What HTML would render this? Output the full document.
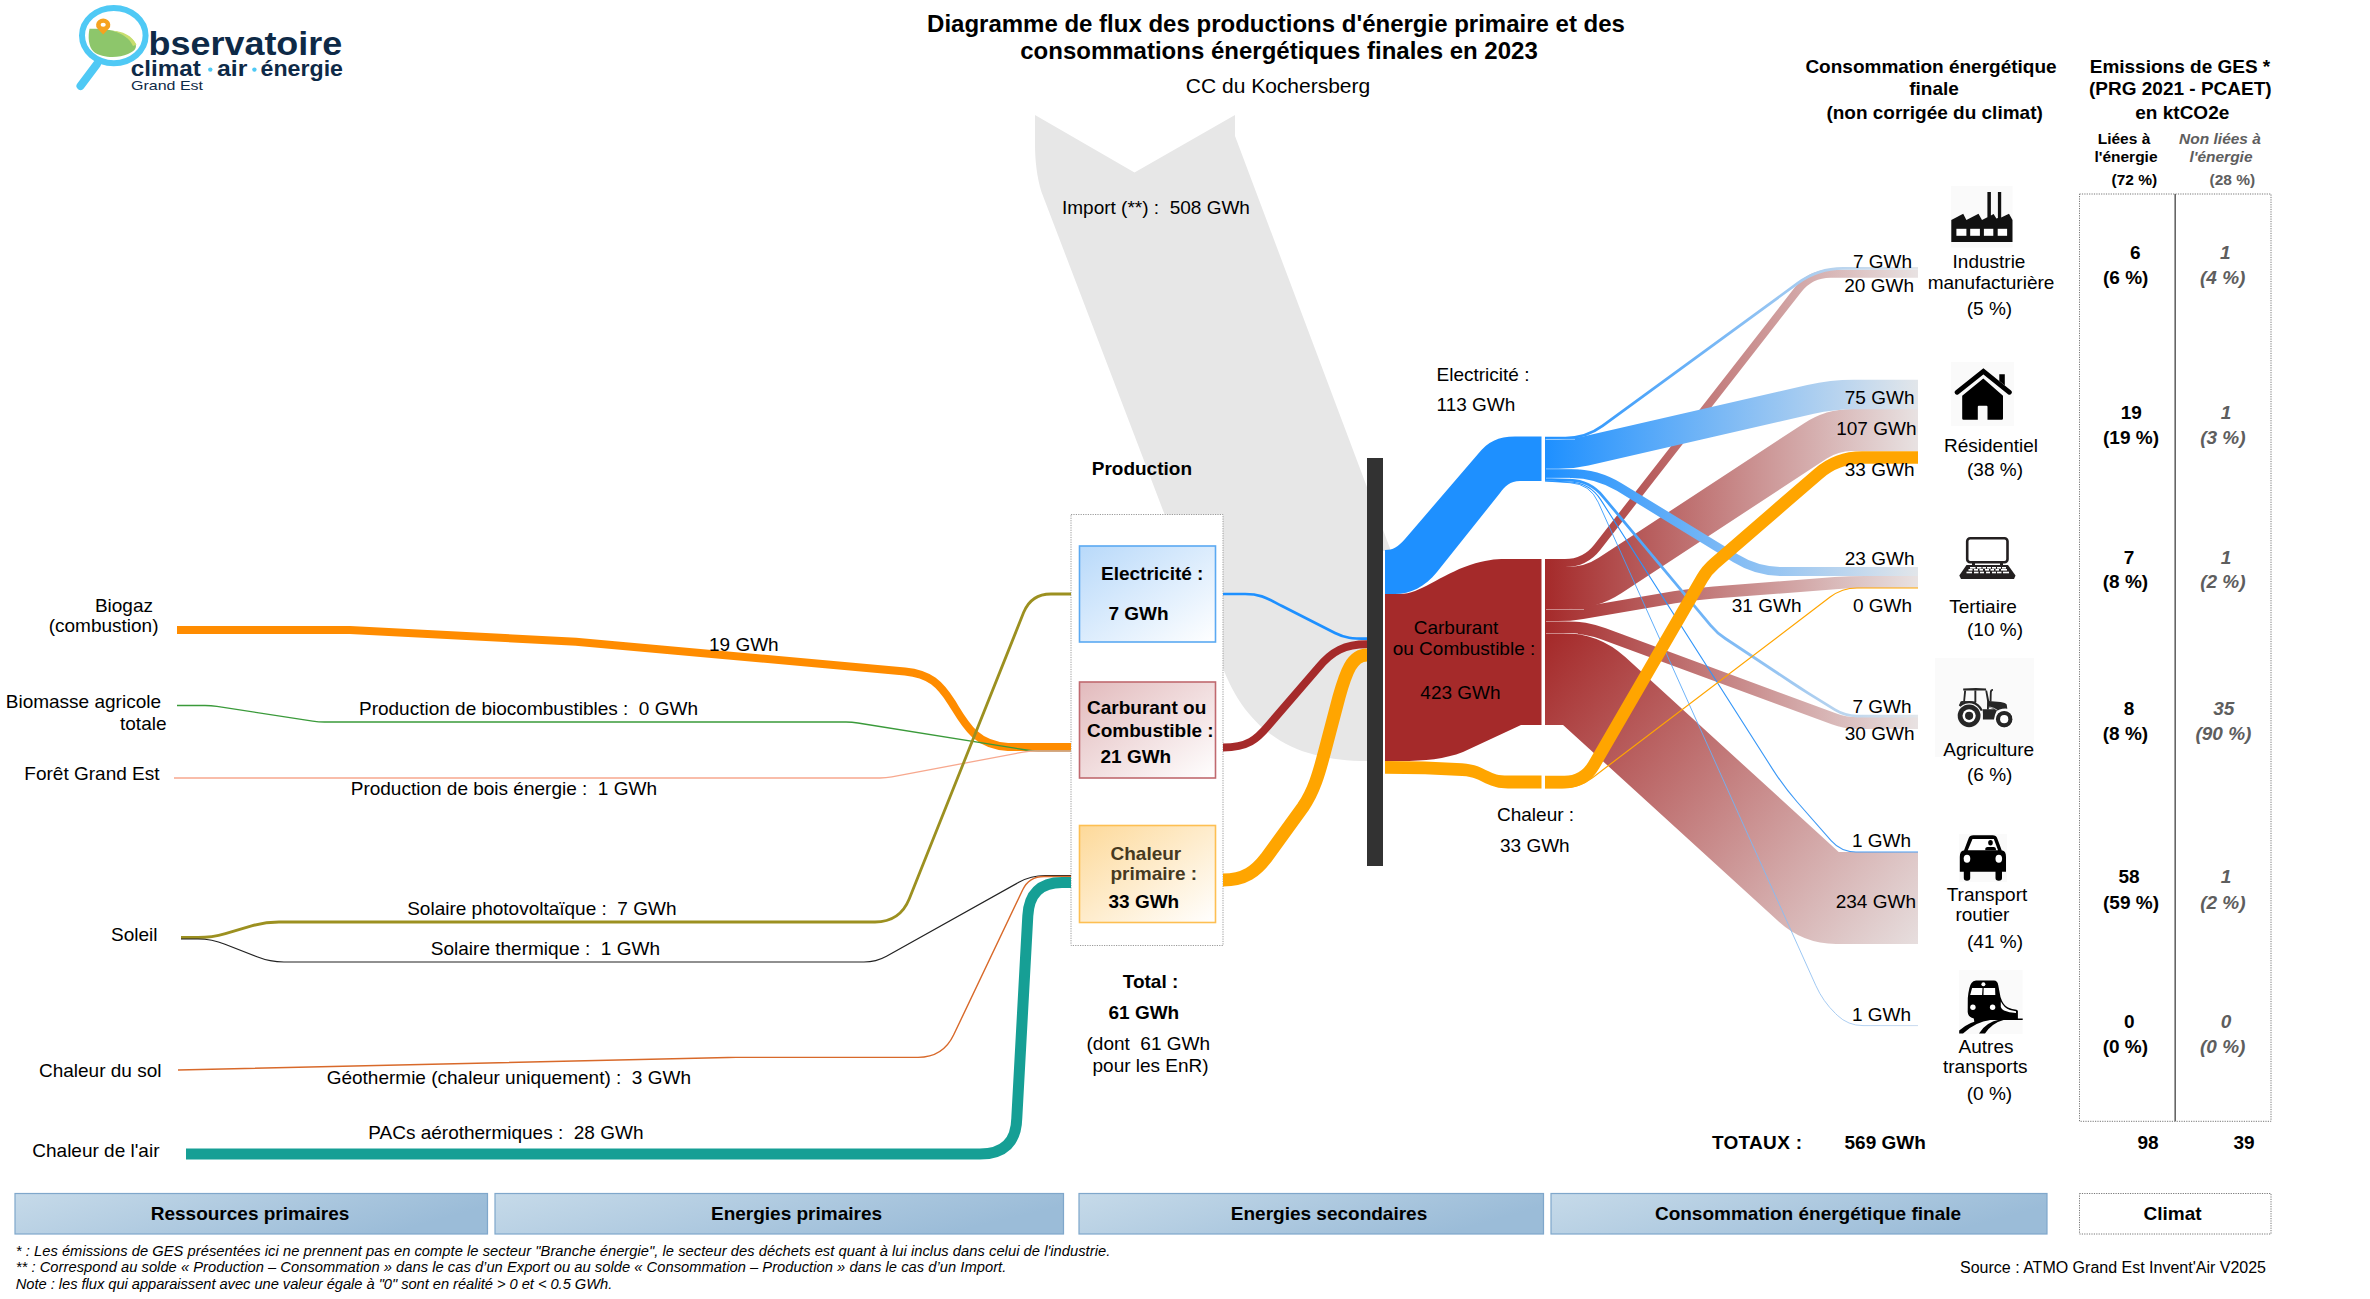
<!DOCTYPE html>
<html lang="fr"><head><meta charset="utf-8"><title>Diagramme de flux énergie 2023 - CC du Kochersberg</title>
<style>
html,body{margin:0;padding:0;background:#fff;}
body{width:2370px;height:1299px;overflow:hidden;}
svg{display:block;font-family:"Liberation Sans",Arial,sans-serif;}
text{white-space:pre;}
.r{font-size:19px;fill:#000;}
.b{font-size:19px;font-weight:bold;fill:#000;}
.g{font-size:19px;font-weight:bold;font-style:italic;fill:#5e5e5e;}
.s{font-size:15.5px;font-weight:bold;fill:#000;}
.sg{font-size:15.5px;font-weight:bold;font-style:italic;fill:#5e5e5e;}
.fn{font-size:14.7px;font-style:italic;fill:#000;}
</style></head>
<body>
<svg width="2370" height="1299" viewBox="0 0 2370 1299">
<defs>
<linearGradient id="gElec" x1="0" y1="0" x2="1" y2="1"><stop offset="0" stop-color="#b8d9fa"/><stop offset="1" stop-color="#ffffff"/></linearGradient>
<linearGradient id="gCarb" x1="0" y1="0" x2="1" y2="1"><stop offset="0" stop-color="#e2babc"/><stop offset="1" stop-color="#ffffff"/></linearGradient>
<linearGradient id="gChal" x1="0" y1="0" x2="1" y2="1"><stop offset="0" stop-color="#fdd999"/><stop offset="1" stop-color="#ffffff"/></linearGradient>
<linearGradient id="gBar" x1="0" y1="0" x2="1" y2="0.3"><stop offset="0" stop-color="#c6dae9"/><stop offset="1" stop-color="#9bbcd8"/></linearGradient>
<linearGradient id="fB" gradientUnits="userSpaceOnUse" x1="1545" y1="0" x2="1918" y2="0"><stop offset="0" stop-color="#1e90ff"/><stop offset="1" stop-color="#e2e6ea"/></linearGradient>
<linearGradient id="fR" gradientUnits="userSpaceOnUse" x1="1545" y1="0" x2="1918" y2="0"><stop offset="0" stop-color="#a52a2a"/><stop offset="1" stop-color="#e8e2e2"/></linearGradient>
<linearGradient id="fB3" gradientUnits="userSpaceOnUse" x1="1545" y1="0" x2="1918" y2="0"><stop offset="0" stop-color="#1e90ff"/><stop offset="1" stop-color="#4a9cf0"/></linearGradient>
<linearGradient id="fB4" gradientUnits="userSpaceOnUse" x1="1545" y1="0" x2="1918" y2="0"><stop offset="0" stop-color="#1e90ff"/><stop offset="1" stop-color="#c4d6ec"/></linearGradient>
<linearGradient id="fR2" gradientUnits="userSpaceOnUse" x1="1545" y1="640" x2="1918" y2="960"><stop offset="0" stop-color="#a52a2a"/><stop offset="1" stop-color="#e8e2e2"/></linearGradient>
</defs>
<g id="logo">
<ellipse cx="113.8" cy="35.6" rx="31.8" ry="27.6" fill="none" stroke="#4fc9f5" stroke-width="6"/>
<line x1="97" y1="64" x2="80.5" y2="86" stroke="#4fc9f5" stroke-width="8" stroke-linecap="round"/>
<path d="M89.5,28.8 C100,28 124,30 133,40 C138,46 137,50 128,54 C118,58.5 102,58 94,52 C88,47 88,36 89.5,28.8 Z" fill="#8dc66b"/>
<path d="M111,30.4 C123,31 132,35.5 136.5,44.5 C135.5,45.2 134.3,45.6 133,46 C130,38.5 122,33 111,30.4 Z" fill="#c8de6e"/>
<path d="M103.2,34.6 L97.4,28.6 A7.1,6.4 0 1 1 109,28.6 Z" fill="#f6a21e"/>
<ellipse cx="103.2" cy="24.8" rx="2.6" ry="2" fill="#fff"/>
<text x="148.6" y="54.6" font-size="33.5" font-weight="bold" fill="#0e2a47" textLength="193.6" lengthAdjust="spacingAndGlyphs">bservatoire</text>
<text x="130.8" y="75.8" font-size="22.5" font-weight="bold" fill="#0e2a47" textLength="70" lengthAdjust="spacingAndGlyphs">climat</text>
<text x="217" y="75.8" font-size="22.5" font-weight="bold" fill="#0e2a47" textLength="30.3" lengthAdjust="spacingAndGlyphs">air</text>
<text x="260.6" y="75.8" font-size="22.5" font-weight="bold" fill="#0e2a47" textLength="82.4" lengthAdjust="spacingAndGlyphs">énergie</text>
<circle cx="210.3" cy="69.6" r="2.2" fill="#4fc9f5"/>
<circle cx="254.4" cy="69.6" r="2.2" fill="#4fc9f5"/>
<text x="131" y="90.2" font-size="12.8" fill="#0e2a47" textLength="72" lengthAdjust="spacingAndGlyphs">Grand Est</text>
</g>
<text class="b" x="1276" y="31.6" font-size="24" text-anchor="middle" style="font-size:24px">Diagramme de flux des productions d'énergie primaire et des</text>
<text class="b" x="1279" y="58.5" text-anchor="middle" style="font-size:24px">consommations énergétiques finales en 2023</text>
<text class="r" x="1278" y="92.7" text-anchor="middle" style="font-size:21px">CC du Kochersberg</text>
<path d="M1035,115 L1134.5,172.5 L1235,115 L1235,136 L1391,551 L1367,551 L1367,761 C1300,761 1245,737 1219,657 L1041.5,192 C1037,178 1035,160 1035,145 Z" fill="#e7e7e7"/>
<rect x="1071" y="514.5" width="152" height="431" fill="#fff" stroke="#9a9a9a" stroke-width="1" stroke-dasharray="1.2 1.2"/>
<rect x="1079.5" y="546" width="136" height="96" fill="url(#gElec)" stroke="#5aa9f2" stroke-width="1.6"/>
<rect x="1079.5" y="682" width="136" height="96" fill="url(#gCarb)" stroke="#c0696f" stroke-width="1.6"/>
<rect x="1079.5" y="825.5" width="136" height="97" fill="url(#gChal)" stroke="#fdbf52" stroke-width="1.6"/>
<text class="b" x="1192" y="475.4" text-anchor="end">Production</text>
<text class="b" x="1101" y="580.2">Electricité :</text>
<text class="b" x="1108.5" y="619.6">7 GWh</text>
<text class="b" x="1087" y="714.4">Carburant ou</text>
<text class="b" x="1087" y="736.6">Combustible :</text>
<text class="b" x="1100.5" y="763.4">21 GWh</text>
<text class="b" x="1110.5" y="859.5" style="fill:#46391f">Chaleur</text>
<text class="b" x="1110.5" y="879.8" style="fill:#46391f">primaire :</text>
<text class="b" x="1108.5" y="907.7">33 GWh</text>
<text class="b" x="1150.5" y="987.6" text-anchor="middle">Total :</text>
<text class="b" x="1108.5" y="1018.7">61 GWh</text>
<text class="r" x="1086.5" y="1050.4">(dont  61 GWh</text>
<text class="r" x="1092.5" y="1071.6">pour les EnR)</text>
<path d="M177,630 L350,630 L576,641.8 L905,671.5 C930,674 940,684 952,703 C965,724 975,745 1008,747 L1071,747" fill="none" stroke="#ff8c00" stroke-width="8"/>
<path d="M177.0,705.5 L205.0,705.5 Q211.0,705.5 216.9,706.4 L312.7,721.1 Q318.6,722.0 324.6,722.0 L846.0,722.0 Q852.0,722.0 857.9,723.0 L1026.1,750.0 Q1032.0,751.0 1038.0,751.0 L1071.0,751.0" fill="none" stroke="#3a9a3a" stroke-width="1.3"/>
<path d="M174.0,778.0 L880.0,778.0 Q886.0,778.0 891.9,776.9 L1023.1,752.1 Q1029.0,751.0 1035.0,751.0 L1071.0,751.0" fill="none" stroke="#f7a88e" stroke-width="1.3"/>
<path d="M181.0,937.5 L198.0,937.5 Q212.0,937.5 225.4,933.6 L251.6,925.9 Q265.0,922.0 279.0,922.0 L875.0,922.0 Q900.0,922.0 909.3,898.8 L1023.6,612.6 Q1031.0,594.0 1051.0,594.0 L1071.0,594.0" fill="none" stroke="#9c9020" stroke-width="2.8"/>
<path d="M181.0,939.0 L198.0,939.0 Q212.0,939.0 225.0,944.2 L257.0,956.8 Q270.0,962.0 284.0,962.0 L864.0,962.0 Q876.0,962.0 886.5,956.2 L1018.8,882.3 Q1031.0,875.5 1045.0,875.5 L1071.0,875.5" fill="none" stroke="#222" stroke-width="1.2"/>
<path d="M178.0,1070.0 L728.0,1057.5 Q732.0,1057.4 736.0,1057.4 L918.0,1057.4 Q943.0,1057.4 953.7,1034.8 L1022.6,890.0 Q1029.0,876.5 1044.0,876.5 L1071.0,876.5" fill="none" stroke="#d8692a" stroke-width="1.4"/>
<path d="M186,1154 L980,1154 Q1016,1154 1016.8,1118 L1027.8,916 Q1029.5,882.5 1062,882.5 L1071,882.5" fill="none" stroke="#169f95" stroke-width="11"/>
<path d="M1223,594 L1245,594 C1262,594 1268,599 1282,606 L1335,633 C1345,638 1352,638.7 1367,638.7" fill="none" stroke="#1e90ff" stroke-width="2.7"/>
<path d="M1223,747.5 C1248,747.5 1257,739 1268,726 L1318,668 C1332,651 1345,644.3 1367,644.3" fill="none" stroke="#a52a2a" stroke-width="8"/>
<path d="M1223,880 C1245,880 1256,871 1266,858 L1303,807 C1314,791 1319,773 1324,754 L1339,697 C1346,672 1352,655 1367,655" fill="none" stroke="#ffa500" stroke-width="13"/>
<path d="M1385,550 C1393,550 1398,547 1405,539 L1478,454 C1488,442 1498,436.6 1515,436.6 L1541.5,436.6 L1541.5,481 L1520,481 C1510,481 1505,486 1500,493 L1437,572 C1425,587 1410,594 1395,594 L1385,594 Z" fill="#1e90ff"/>
<path d="M1385,594 L1400,594 C1420,594 1440,575 1470,565 C1485,560 1495,559 1505,559 L1541.5,559 L1541.5,725 L1521,725 L1463,752 C1445,759 1425,761 1400,761 L1385,761 Z" fill="#a52a2a"/>
<path d="M1385,761 L1425,761.6 L1462,763.2 C1475,764 1482,768 1488,771 C1494,774 1498,775.6 1508,775.6 L1541.5,775.6 L1541.5,788.4 L1508,788.4 C1498,788.4 1493,786.5 1486,783.5 C1479,780 1474,776.6 1462,776 L1425,774.2 L1385,773.8 Z" fill="#ffa500"/>
<text class="r" x="1436.5" y="381">Electricité :</text>
<text class="r" x="1436.5" y="411">113 GWh</text>
<text class="r" x="1456" y="634" text-anchor="middle">Carburant</text>
<text class="r" x="1464" y="655" text-anchor="middle">ou Combustible :</text>
<text class="r" x="1460.5" y="699" text-anchor="middle">423 GWh</text>
<text class="r" x="1497" y="820.8">Chaleur :</text>
<text class="r" x="1500" y="851.5">33 GWh</text>
<rect x="1367" y="458" width="16" height="408" fill="#323232"/>
<text class="r" x="153" y="611.6" text-anchor="end">Biogaz</text>
<text class="r" x="158.5" y="631.7" text-anchor="end">(combustion)</text>
<text class="r" x="161" y="707.6" text-anchor="end">Biomasse agricole</text>
<text class="r" x="166.5" y="729.8" text-anchor="end">totale</text>
<text class="r" x="159.5" y="780.4" text-anchor="end">Forêt Grand Est</text>
<text class="r" x="157.5" y="941" text-anchor="end">Soleil</text>
<text class="r" x="161.5" y="1076.5" text-anchor="end">Chaleur du sol</text>
<text class="r" x="159.5" y="1156.5" text-anchor="end">Chaleur de l'air</text>
<text class="r" x="709" y="650.6">19 GWh</text>
<text class="r" x="698" y="715" text-anchor="end">Production de biocombustibles :  0 GWh</text>
<text class="r" x="657" y="795" text-anchor="end">Production de bois énergie :  1 GWh</text>
<text class="r" x="676.5" y="915" text-anchor="end">Solaire photovoltaïque :  7 GWh</text>
<text class="r" x="660" y="955" text-anchor="end">Solaire thermique :  1 GWh</text>
<text class="r" x="691" y="1083.5" text-anchor="end">Géothermie (chaleur uniquement) :  3 GWh</text>
<text class="r" x="643.5" y="1139" text-anchor="end">PACs aérothermiques :  28 GWh</text>
<path d="M1545.0,679.0 L1563.0,679.0 Q1581.0,679.0 1594.3,691.1 L1809.9,887.9 Q1821.0,898.0 1836.0,898.0 L1918.0,898.0" fill="none" stroke="url(#fR2)" stroke-width="92"/>
<path d="M1545.0,627.0 L1565.0,627.0 Q1585.0,627.0 1603.8,633.9 L1833.7,718.8 Q1845.0,723.0 1857.0,723.0 L1918.0,723.0" fill="none" stroke="url(#fR)" stroke-width="11.8"/>
<path d="M1545.0,615.0 L1557.5,615.0 Q1570.0,615.0 1582.3,612.9 L1674.3,597.3 Q1694.0,594.0 1713.9,592.5 L1835.0,583.2 Q1850.0,582.0 1865.0,582.0 L1918.0,582.0" fill="none" stroke="url(#fR)" stroke-width="12.2"/>
<path d="M1545.0,588.0 L1568.0,588.0 Q1591.0,588.0 1610.2,575.4 L1815.3,441.0 Q1832.0,430.0 1852.0,430.0 L1918.0,430.0" fill="none" stroke="url(#fR)" stroke-width="42"/>
<path d="M1545.0,563.0 L1565.0,563.0 Q1585.0,563.0 1597.3,547.2 L1798.2,289.5 Q1810.5,273.7 1830.5,273.7 L1918.0,273.7" fill="none" stroke="url(#fR)" stroke-width="7.9"/>
<path d="M1545.0,454.2 L1558.5,454.2 Q1572.0,454.2 1585.2,451.2 L1810.6,399.4 Q1832.0,394.5 1854.0,394.5 L1918.0,394.5" fill="none" stroke="url(#fB)" stroke-width="29.5"/>
<path d="M1545.0,473.4 L1571.0,473.4 Q1597.0,473.4 1619.2,487.0 L1735.7,558.4 Q1757.0,571.5 1782.0,571.5 L1918.0,571.5" fill="none" stroke="url(#fB)" stroke-width="9"/>
<path d="M1545.0,438.0 L1565.5,438.0 Q1586.0,438.0 1602.5,425.9 L1797.8,283.2 Q1818.0,268.4 1843.0,268.4 L1918.0,268.4" fill="none" stroke="url(#fB)" stroke-width="2.75"/>
<path d="M1545.0,479.2 L1570.0,480.2 Q1590.0,481.0 1602.8,496.3 L1710.6,625.3 Q1717.0,633.0 1725.3,638.5 L1791.7,682.5 Q1800.0,688.0 1808.5,693.3 L1834.8,709.7 Q1845.0,716.0 1857.0,716.0 L1918.0,716.0" fill="none" stroke="url(#fB)" stroke-width="2.75"/>
<path d="M1545.0,480.8 L1570.0,482.0 Q1590.0,483.0 1600.8,499.9 L1773.2,770.1 Q1784.0,787.0 1797.2,802.0 L1831.1,840.7 Q1841.0,852.0 1856.0,852.0 L1918.0,852.0" fill="none" stroke="url(#fB3)" stroke-width="1.1"/>
<path d="M1545.0,481.0 L1570.0,482.7 Q1590.0,484.0 1598.2,502.2 L1815.9,985.7 Q1823.0,1001.5 1835.5,1013.5 L1837.2,1015.2 Q1848.0,1025.6 1863.0,1025.6 L1918.0,1025.6" fill="none" stroke="url(#fB4)" stroke-width="0.9"/>
<line x1="1546" y1="609.5" x2="1584" y2="609.5" stroke="#fff" stroke-opacity="0.55" stroke-width="0.8"/>
<line x1="1546" y1="621.5" x2="1583" y2="621.5" stroke="#fff" stroke-opacity="0.55" stroke-width="0.8"/>
<line x1="1546" y1="633.5" x2="1578" y2="633.5" stroke="#fff" stroke-opacity="0.55" stroke-width="0.8"/>
<line x1="1546" y1="439.4" x2="1575" y2="439.4" stroke="#fff" stroke-opacity="0.55" stroke-width="0.8"/>
<line x1="1546" y1="468.9" x2="1580" y2="468.9" stroke="#fff" stroke-opacity="0.55" stroke-width="0.8"/>
<line x1="1546" y1="478.2" x2="1570" y2="478.2" stroke="#fff" stroke-opacity="0.55" stroke-width="0.8"/>
<path d="M1545.0,788.0 L1562.0,788.0 Q1579.0,788.0 1592.5,777.7 L1830.1,597.1 Q1842.0,588.0 1857.0,588.0 L1918.0,588.0" fill="none" stroke="#ffa500" stroke-width="1.2"/>
<path d="M1545.0,782.0 L1564.5,782.0 Q1584.0,782.0 1593.8,765.1 L1702.0,578.6 Q1707.0,570.0 1714.6,563.5 L1818.1,473.9 Q1837.0,457.5 1862.0,457.5 L1918.0,457.5" fill="none" stroke="#ffa500" stroke-width="12.5"/>
<rect x="1951" y="186" width="61.5" height="61.5" fill="#fafafa"/>
<rect x="1951" y="362" width="63.0" height="64.0" fill="#fafafa"/>
<rect x="1935" y="658" width="99.0" height="99.0" fill="#fafafa"/>
<rect x="1959" y="834" width="48.0" height="48.0" fill="#fafafa"/>
<rect x="1959" y="970" width="63.5" height="64.0" fill="#fafafa"/>
<text class="r" x="1912" y="268" text-anchor="end">7 GWh</text>
<text class="r" x="1914" y="291.8" text-anchor="end">20 GWh</text>
<text class="r" x="1914.5" y="404" text-anchor="end">75 GWh</text>
<text class="r" x="1916.5" y="435" text-anchor="end">107 GWh</text>
<text class="r" x="1914.5" y="475.5" text-anchor="end">33 GWh</text>
<text class="r" x="1914.5" y="565" text-anchor="end">23 GWh</text>
<text class="r" x="1801.5" y="612" text-anchor="end">31 GWh</text>
<text class="r" x="1912" y="612" text-anchor="end">0 GWh</text>
<text class="r" x="1911.5" y="712.8" text-anchor="end">7 GWh</text>
<text class="r" x="1914.5" y="740.4" text-anchor="end">30 GWh</text>
<text class="r" x="1911" y="847.2" text-anchor="end">1 GWh</text>
<text class="r" x="1916" y="907.9" text-anchor="end">234 GWh</text>
<text class="r" x="1911" y="1020.5" text-anchor="end">1 GWh</text>
<text class="r" x="1989" y="268" text-anchor="middle">Industrie</text>
<text class="r" x="1991" y="289" text-anchor="middle">manufacturière</text>
<text class="r" x="1989.5" y="315" text-anchor="middle">(5 %)</text>
<text class="r" x="1991" y="452.3" text-anchor="middle">Résidentiel</text>
<text class="r" x="1995" y="475.9" text-anchor="middle">(38 %)</text>
<text class="r" x="1983" y="612.6" text-anchor="middle">Tertiaire</text>
<text class="r" x="1995" y="636.4" text-anchor="middle">(10 %)</text>
<text class="r" x="1988.7" y="756.2" text-anchor="middle">Agriculture</text>
<text class="r" x="1989.7" y="780.5" text-anchor="middle">(6 %)</text>
<text class="r" x="1987" y="900.6" text-anchor="middle">Transport</text>
<text class="r" x="1982.4" y="921.4" text-anchor="middle">routier</text>
<text class="r" x="1995" y="948" text-anchor="middle">(41 %)</text>
<text class="r" x="1986" y="1052.5" text-anchor="middle">Autres</text>
<text class="r" x="1985.2" y="1073.4" text-anchor="middle">transports</text>
<text class="r" x="1989.5" y="1099.6" text-anchor="middle">(0 %)</text>
<text class="b" x="1931" y="73.3" text-anchor="middle">Consommation énergétique</text>
<text class="b" x="1934" y="95.3" text-anchor="middle">finale</text>
<text class="b" x="1934.6" y="118.5" text-anchor="middle">(non corrigée du climat)</text>
<text class="b" x="2180" y="73.3" text-anchor="middle">Emissions de GES *</text>
<text class="b" x="2180.3" y="95.3" text-anchor="middle">(PRG 2021 - PCAET)</text>
<text class="b" x="2182.3" y="118.5" text-anchor="middle">en ktCO2e</text>
<text class="s" x="2124" y="143.75" text-anchor="middle">Liées à</text>
<text class="s" x="2126" y="162" text-anchor="middle">l'énergie</text>
<text class="s" x="2134.3" y="185.3" text-anchor="middle">(72 %)</text>
<text class="sg" x="2220" y="143.75" text-anchor="middle">Non liées à</text>
<text class="sg" x="2221" y="162" text-anchor="middle">l'énergie</text>
<text class="s" x="2232.3" y="185.3" text-anchor="middle" style="fill:#5e5e5e">(28 %)</text>
<rect x="2079.5" y="194" width="191.5" height="927.3" fill="none" stroke="#777" stroke-width="1" stroke-dasharray="1.2 1.2"/>
<line x1="2175.2" y1="194" x2="2175.2" y2="1121.3" stroke="#666" stroke-width="1.6"/>
<text class="b" x="2135.4" y="259" text-anchor="middle">6</text>
<text class="b" x="2125.7" y="283.8" text-anchor="middle">(6 %)</text>
<text class="g" x="2225.3" y="259" text-anchor="middle">1</text>
<text class="g" x="2222.7" y="283.8" text-anchor="middle">(4 %)</text>
<text class="b" x="2131.3" y="419.3" text-anchor="middle">19</text>
<text class="b" x="2131" y="443.5" text-anchor="middle">(19 %)</text>
<text class="g" x="2226" y="419.3" text-anchor="middle">1</text>
<text class="g" x="2222.9" y="443.5" text-anchor="middle">(3 %)</text>
<text class="b" x="2129" y="563.6" text-anchor="middle">7</text>
<text class="b" x="2125.5" y="587.9" text-anchor="middle">(8 %)</text>
<text class="g" x="2226" y="563.6" text-anchor="middle">1</text>
<text class="g" x="2222.9" y="587.9" text-anchor="middle">(2 %)</text>
<text class="b" x="2129" y="715" text-anchor="middle">8</text>
<text class="b" x="2125.5" y="740" text-anchor="middle">(8 %)</text>
<text class="g" x="2223.7" y="715" text-anchor="middle">35</text>
<text class="g" x="2223.4" y="740" text-anchor="middle">(90 %)</text>
<text class="b" x="2129" y="883.3" text-anchor="middle">58</text>
<text class="b" x="2131" y="908.7" text-anchor="middle">(59 %)</text>
<text class="g" x="2226" y="883.3" text-anchor="middle">1</text>
<text class="g" x="2222.9" y="908.7" text-anchor="middle">(2 %)</text>
<text class="b" x="2129.4" y="1027.6" text-anchor="middle">0</text>
<text class="b" x="2125.4" y="1052.5" text-anchor="middle">(0 %)</text>
<text class="g" x="2226" y="1027.6" text-anchor="middle">0</text>
<text class="g" x="2222.75" y="1052.5" text-anchor="middle">(0 %)</text>
<text class="b" x="1712" y="1148.5" textLength="90" lengthAdjust="spacing">TOTAUX :</text>
<text class="b" x="1844.5" y="1148.5">569 GWh</text>
<text class="b" x="2148" y="1148.5" text-anchor="middle">98</text>
<text class="b" x="2244" y="1148.5" text-anchor="middle">39</text>
<path d="M1951.3,242 L1951.3,220.1 L1963.2,213.7 L1966.4,220.1 L1978.5,213.7 L1982,220.1 L1987.4,217.2 L1987.4,191.9 L1990.9,191.9 L1990.9,215.6 L1993.6,214 L1996.4,218.6 L1997.9,217.9 L1997.9,191.9 L2001.2,191.9 L2001.2,217.6 L2009,213.7 L2012.5,220.1 L2012.5,242 Z" fill="#111"/>
<rect x="1956.4" y="228.8" width="10.0" height="7" fill="#fff"/>
<rect x="1970.2" y="228.8" width="9.7" height="7" fill="#fff"/>
<rect x="1983.9" y="228.8" width="9.4" height="7" fill="#fff"/>
<rect x="1997.7" y="228.8" width="9.4" height="7" fill="#fff"/>
<path d="M1957,392.3 L1983.4,371.4 L2009.5,392.3" fill="none" stroke="#000" stroke-width="4.8" stroke-linecap="round" stroke-linejoin="miter"/>
<path d="M1999.3,374.3 L2004.8,374.3 L2004.8,385.6 L1999.3,381 Z" fill="#000"/>
<path d="M1983.3,378.5 L2003,395.8 L2003,418.5 Q2003,419.8 2001.7,419.8 L1987.5,419.8 L1987.5,406.8 Q1987.5,405.8 1986.5,405.8 L1978.8,405.8 Q1977.8,405.8 1977.8,406.8 L1977.8,419.8 L1963.5,419.8 Q1962.2,419.8 1962.2,418.5 L1962.2,395.8 Z" fill="#000"/>
<rect x="1967.2" y="538.3" width="40.3" height="24" rx="3" fill="none" stroke="#231f20" stroke-width="2.6"/>
<rect x="1972" y="563" width="3" height="2.5" fill="#231f20"/><rect x="2000" y="563" width="3" height="2.5" fill="#231f20"/>
<path d="M1966.5,565 L2008,565 L2015.5,575.5 L2014,579 L1961,579 L1959.3,575.5 Z" fill="#231f20"/>
<rect x="1970" y="567" width="5.5" height="1.6" fill="#fff"/>
<rect x="1977" y="567" width="4.5" height="1.6" fill="#fff"/>
<rect x="1982.5" y="567" width="3.5" height="1.6" fill="#fff"/>
<rect x="1987" y="567" width="4" height="1.6" fill="#fff"/>
<rect x="1992" y="567" width="4" height="1.6" fill="#fff"/>
<rect x="1997" y="567" width="4" height="1.6" fill="#fff"/>
<rect x="2002" y="567" width="4" height="1.6" fill="#fff"/>
<rect x="1968.5" y="569" width="4.0" height="1.6" fill="#fff"/>
<rect x="1974" y="569" width="4" height="1.6" fill="#fff"/>
<rect x="1979.5" y="569" width="3.5" height="1.6" fill="#fff"/>
<rect x="1985" y="569" width="4" height="1.6" fill="#fff"/>
<rect x="1990.5" y="569" width="3.5" height="1.6" fill="#fff"/>
<rect x="1995.5" y="569" width="3.5" height="1.6" fill="#fff"/>
<rect x="2001" y="569" width="6" height="1.6" fill="#fff"/>
<rect x="1966.5" y="571.7" width="5.5" height="1.6" fill="#fff"/>
<rect x="1974" y="571.7" width="4.5" height="1.6" fill="#fff"/>
<rect x="1980" y="571.7" width="4" height="1.6" fill="#fff"/>
<rect x="1986" y="571.7" width="4" height="1.6" fill="#fff"/>
<rect x="1992" y="571.7" width="4" height="1.6" fill="#fff"/>
<rect x="1997" y="571.7" width="4.5" height="1.6" fill="#fff"/>
<rect x="2003" y="571.7" width="6" height="1.6" fill="#fff"/>
<g fill="#262626">
<circle cx="1969.1" cy="715.8" r="11.4"/>
<circle cx="2004.2" cy="719.2" r="8.3"/>
<path d="M1963.2,688.6 Q1974.5,687.6 1986,688.4 L1986.2,690.6 L1963.2,690.6 Z"/>
<path d="M1964.2,690.4 L1966.1,690.4 L1965.0,701.4 L1963.2,701.4 Z"/>
<rect x="1974.4" y="690.4" width="1.9" height="12"/>
<path d="M1985.3,690.4 L1987.1,690.4 L1989.2,701 L1988.8,709.4 L1987.0,709.4 L1987.1,701 Z"/>
<path d="M1989.6,701.5 L1989.9,692 Q1990.1,689.2 1992.9,689 L1993.1,690.6 Q1991.8,690.8 1991.7,692.5 L1991.5,701.5 Z"/>
<path d="M1961.2,701.0 L1975.8,701.6 L1975.8,703.2 L1961.6,702.6 Z"/>
<path d="M1958.82,705.15 A14.8,14.8 0 0 1 1982.82,710.26 L1980.78,711.08 A12.6,12.6 0 0 0 1960.35,706.74 Z"/>
<path d="M1958.9,705.6 L1960.6,701.6 L1963.5,701.8 L1961.5,704.8 Z"/>
<path d="M1988.6,701.0 L2000.5,701.9 Q2005.6,702.6 2006.7,704.6 L2007.3,708.7 Q2003,708.3 1999.6,709.6 Q1997.5,710.6 1996.4,711.6 Q1993,707.8 1988.6,707.2 Z"/>
<path d="M1982.6,709.3 L1994.6,709.3 Q1996.6,710.3 1996.2,711.8 Q1994.6,715 1994.0,719.6 L1982.9,719.6 Q1983.2,714 1982.6,709.3 Z"/>
</g>
<circle cx="1969.1" cy="715.8" r="6.6" fill="#fff"/><circle cx="1969.1" cy="715.8" r="4.1" fill="#262626"/>
<circle cx="2004.2" cy="719.2" r="4.1" fill="#fff"/>
<path d="M1989.5,707.0 Q1994,707.8 1997.6,710.4" fill="none" stroke="#fff" stroke-width="0.7"/>
<circle cx="2004.2" cy="719.2" r="9.1" fill="none" stroke="#fff" stroke-width="0.9"/>
<path d="M1973.5,835.2 L1992.5,835.2 Q1996.3,835.2 1997.3,838.5 L2001.8,850.6 L2002.6,850.6 Q2006,851.5 2006,857 L2006,871.8 L2002,871.8 L2002,878 Q2002,880.8 1998.8,880.8 Q1995.5,880.8 1995.5,878 L1995.5,871.8 L1970.2,871.8 L1970.2,878 Q1970.2,880.8 1967,880.8 Q1963.8,880.8 1963.8,878 L1963.8,871.8 L1959.8,871.8 L1959.8,857 Q1959.8,851.5 1963.2,850.6 L1964,850.6 L1968.5,838.5 Q1969.5,835.2 1973.5,835.2 Z" fill="#000"/>
<path d="M1972.5,839 L1993.8,839 L1998,850.2 L1967.8,850.2 Z" fill="#fff"/>
<ellipse cx="1990.5" cy="842.8" rx="2.3" ry="2.7" fill="#000"/>
<path d="M1985.3,850.3 L1985.3,848.5 Q1985.5,847 1987.5,847 L1993.8,847 Q1995.7,847 1995.8,848.5 L1996,850.3 Z" fill="#000"/>
<ellipse cx="1967" cy="858.8" rx="3.3" ry="4" fill="#fff"/><ellipse cx="1998.8" cy="858.8" rx="3.3" ry="4" fill="#fff"/>
<path d="M1976,980.5 L1994,980.5 Q1997.5,980.5 1998.2,985 L2000.5,997 Q2003,1005 2008,1007.5 Q2012,1009.3 2016.5,1009.8 L2017.9,1010.8 L2017.9,1018.6 L2022.7,1018.6 L2022.7,1020 L1991,1020 Q1980,1020 1974.5,1023 L1973.8,1018.5 Q1968,1017 1967.7,1012 L1967.8,998 Q1969,986 1971.5,983 Q1973,980.5 1976,980.5 Z" fill="#000"/>
<path d="M1972.1,988 L1982.5,988 L1982.1,995 L1970.2,995 Z" fill="#fff"/><path d="M1983.7,988 L1995.1,988 L1995.3,995 L1983.5,995 Z" fill="#fff"/>
<circle cx="1983.4" cy="984.3" r="2" fill="#fff"/>
<circle cx="1972.9" cy="1007.2" r="2.7" fill="#fff"/><circle cx="1992.6" cy="1007.2" r="2.7" fill="#fff"/>
<path d="M2000.8,1001.5 Q2004,1008 2010,1010 Q2014,1011 2016,1011.2 L2016,1013 Q2009,1012.5 2004,1010.5 Q2001.5,1009 2000.8,1007 Z" fill="#fff"/>
<path d="M1959.2,1033.6 L1959.2,1030.5 Q1970,1021 1984,1019.8 L1991,1019.8 Q1975,1022 1963,1033.6 Z" fill="#000"/>
<path d="M1979,1033.6 Q1986,1022 2000,1019.6 L2005,1019.6 Q1992,1023 1985,1033.6 Z" fill="#000"/>
<rect x="15" y="1193.5" width="472.5" height="40.5" fill="url(#gBar)" stroke="#7fa7cb" stroke-width="1.2"/>
<text class="b" x="250" y="1219.8" text-anchor="middle">Ressources primaires</text>
<rect x="495" y="1193.5" width="568.5" height="40.5" fill="url(#gBar)" stroke="#7fa7cb" stroke-width="1.2"/>
<text class="b" x="796.5" y="1219.8" text-anchor="middle">Energies primaires</text>
<rect x="1079" y="1193.5" width="464.5" height="40.5" fill="url(#gBar)" stroke="#7fa7cb" stroke-width="1.2"/>
<text class="b" x="1329" y="1219.8" text-anchor="middle">Energies secondaires</text>
<rect x="1551" y="1193.5" width="496" height="40.5" fill="url(#gBar)" stroke="#7fa7cb" stroke-width="1.2"/>
<text class="b" x="1808" y="1219.8" text-anchor="middle">Consommation énergétique finale</text>
<rect x="2079.5" y="1193.5" width="191.5" height="40.5" fill="#fff" stroke="#777" stroke-width="1" stroke-dasharray="1.2 1.2"/>
<text class="b" x="2172.5" y="1219.8" text-anchor="middle">Climat</text>
<text class="fn" x="15.8" y="1256" textLength="1094.5" lengthAdjust="spacing">* : Les émissions de GES présentées ici ne prennent pas en compte le secteur "Branche énergie", le secteur des déchets est quant à lui inclus dans celui de l'industrie.</text>
<text class="fn" x="15.8" y="1272" textLength="990.5" lengthAdjust="spacing">** : Correspond au solde « Production – Consommation » dans le cas d’un Export ou au solde « Consommation – Production » dans le cas d’un Import.</text>
<text class="fn" x="15.8" y="1289.2" textLength="596.5" lengthAdjust="spacing">Note : les flux qui apparaissent avec une valeur égale à "0" sont en réalité &gt; 0 et &lt; 0.5 GWh.</text>
<text class="r" x="2266" y="1272.8" text-anchor="end" style="font-size:16px">Source : ATMO Grand Est Invent'Air V2025</text>
<text class="r" x="1062" y="213.5" style="font-size:19px">Import (**) :  508 GWh</text>
</svg>
</body></html>
